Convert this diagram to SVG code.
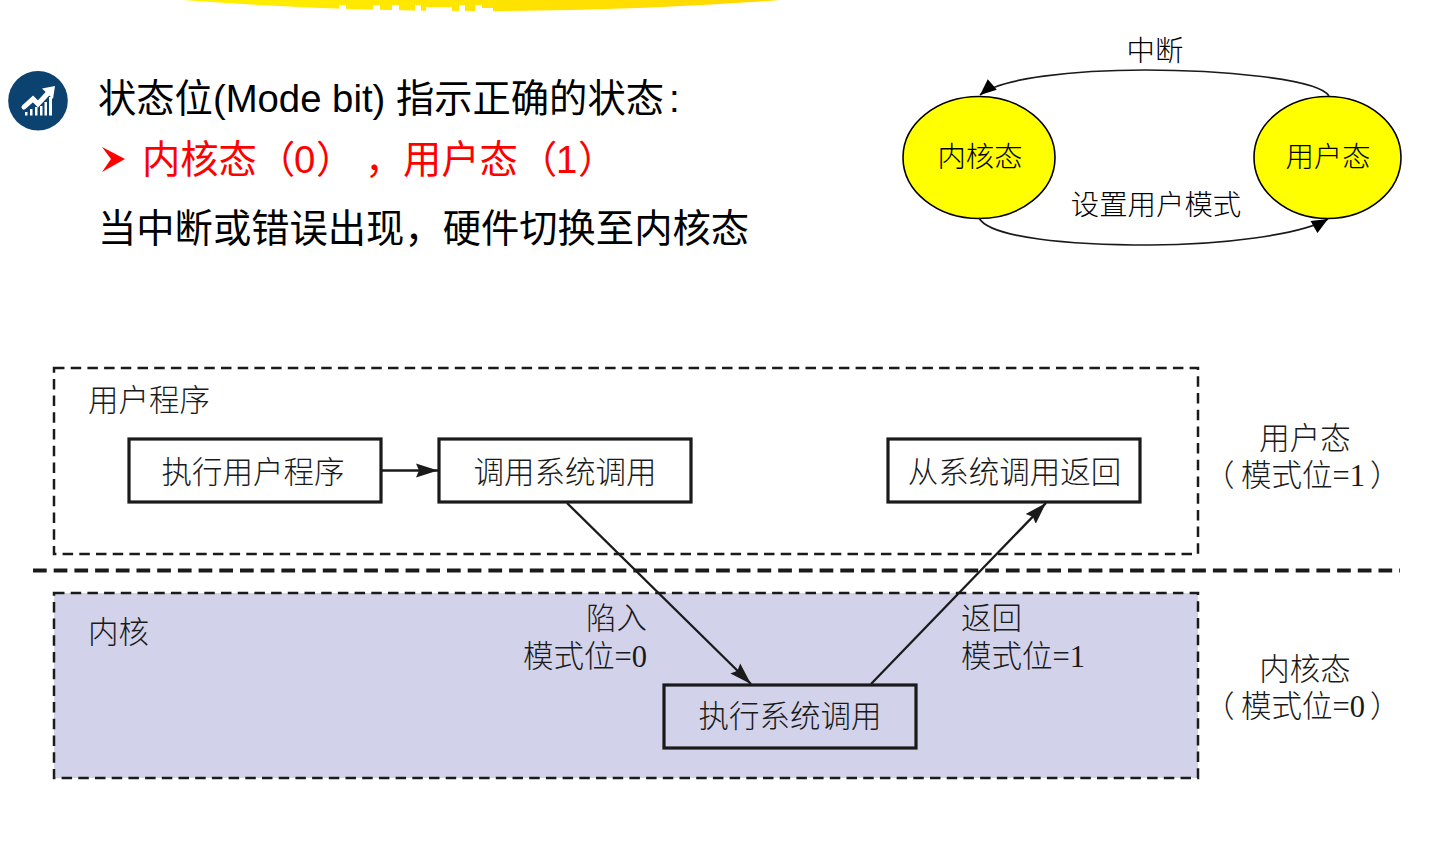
<svg xmlns="http://www.w3.org/2000/svg" width="1437" height="853" viewBox="0 0 1437 853">
<style>
text{font-family:"Noto Sans CJK SC","Liberation Sans",sans-serif;fill:#000}
.h{font-size:38.3px;font-family:"Liberation Sans","Noto Sans CJK SC",sans-serif}
.r{fill:#f00}
.s{font-size:30.5px;font-weight:300;fill:#1a1a1a;font-family:"Liberation Serif","Noto Sans CJK SC",serif}
.e{font-size:28.4px;text-anchor:middle;font-weight:300;font-family:"Liberation Serif","Noto Sans CJK SC",serif}
.m{text-anchor:middle}
.box{fill:#fff;stroke:#1a1a1a;stroke-width:3.2}
.dash{fill:none;stroke:#1a1a1a;stroke-width:2.5;stroke-dasharray:10.5 6.2}
.c{fill:none;stroke:#1a1a1a;stroke-width:2.3}
.t{fill:none;stroke:#1a1a1a;stroke-width:1.7}
.st{fill:#ff0;stroke:#000;stroke-width:1.6}
</style>
<defs>
<linearGradient id="g" x1="0" x2="1" y1="0" y2="0"><stop offset="0" stop-color="#fff000"/><stop offset="1" stop-color="#ffd800"/></linearGradient>
<marker id="a" markerUnits="userSpaceOnUse" markerWidth="24" markerHeight="16" refX="22" refY="7" orient="auto" viewBox="0 0 24 14"><path d="M0 0L22 7L0 14L3 7Z" fill="#1a1a1a"/></marker>
<marker id="b" markerUnits="userSpaceOnUse" markerWidth="18" markerHeight="14" refX="15" refY="6.500" orient="auto" viewBox="0 0 16 13"><path d="M0 0L15 6.500L0 13Z" fill="#000"/></marker>
</defs>
<path d="M183 0Q480 22 780 0Z" fill="url(#g)"/>
<path d="M339 5h7v7h-7zM373 5h7v7h-7zM392 5h7v7h-7zM415 5h6v8h-6zM426 7h26v6h-26zM459 5h6v8h-6zM475 5h7v8h-7zM482 8h11v5h-11z" fill="#fff"/>
<g id="icon"><circle cx="38" cy="100.700" r="29.800" fill="#0c426f"/>
<path d="M24 107L33 99L38 104L50 91" fill="none" stroke="#fff" stroke-width="5" stroke-linecap="round"/>
<path d="M55 86L42 88.500L53 99Z" fill="#fff"/>
<path d="M25 115.500V112H27.500V115.500ZM30 115.500V109H32.500V115.500ZM35 115.500V107H37.500V115.500ZM40 115.500V106H42.500V115.500ZM44.500 115.500V102H47V115.500ZM49 115.500V97H52V115.500Z" fill="#fff"/></g>
<g id="text-block">
<text class="h" x="98" y="112">状态位(Mode bit) 指示正确的状态</text>
<text class="h" x="669" y="112">:</text>
<path d="M102 147L125 159L102 172L111 159Z" fill="#f00"/>
<text class="h r" x="142" y="173">内核态</text>
<text class="h r" x="257" y="173">（</text>
<text class="h r" x="294" y="173">0</text>
<text class="h r" x="316" y="173">）</text>
<text class="h r" x="365" y="173">，</text>
<text class="h r" x="403" y="173">用户态</text>
<text class="h r" x="519" y="173">（</text>
<text class="h r" x="556" y="173">1</text>
<text class="h r" x="578" y="173">）</text>
<text class="h" x="98" y="242">当中断或错误出现，硬件切换至内核态</text>
</g>
<g id="kernel-state"><ellipse class="st" cx="979" cy="157.500" rx="76" ry="61"/><text class="e" x="980" y="167">内核态</text></g>
<g id="user-state"><ellipse class="st" cx="1327.500" cy="157.500" rx="73.500" ry="61"/><text class="e" x="1328" y="167">用户态</text></g>
<text class="e" x="1155" y="61">中断</text>
<text class="e" x="1156" y="215">设置用户模式</text>
<g id="connectors-top">
<path class="t" d="M1329 96C1318 78 1215 70 1145 70C1075 70 1000 78 980 95" marker-end="url(#b)"/>
<path class="t" d="M979 218C990 238 1070 245 1150 245C1220 245 1300 235 1328 219" marker-end="url(#b)"/>
</g>
<g id="user-region"><rect class="dash" x="54" y="368" width="1144" height="186"/><text class="s" x="88" y="411">用户程序</text></g>
<g id="kernel-region"><rect x="54" y="593" width="1144" height="185" fill="#d2d3eb"/><rect class="dash" x="54" y="593" width="1144" height="185"/><text class="s" x="88" y="643">内核</text></g>
<path id="divider" d="M33 570.500H1400" fill="none" stroke="#1a1a1a" stroke-width="4" stroke-dasharray="13.700 7"/>
<g id="n1"><rect class="box" x="129" y="439" width="252" height="63"/><text class="m s" x="253" y="483">执行用户程序</text></g>
<g id="n2"><rect class="box" x="439" y="439" width="252" height="63"/><text class="m s" x="565" y="483">调用系统调用</text></g>
<g id="n3"><rect class="box" x="888" y="439" width="252" height="63"/><text class="m s" x="1014.500" y="483">从系统调用返回</text></g>
<g id="n4"><rect class="box" x="664" y="685" width="252" height="63" style="fill:none"/><text class="m s" x="790" y="727">执行系统调用</text></g>
<g id="connectors">
<path class="c" d="M381 470.500H438" marker-end="url(#a)"/>
<path class="c" d="M567 503L751 684" marker-end="url(#a)"/>
<path class="c" d="M871 684L1046 503" marker-end="url(#a)"/>
</g>
<g id="labels">
<text class="s" x="647" y="629" text-anchor="end">陷入</text>
<text class="s" x="647" y="667" text-anchor="end">模式位=0</text>
<text class="s" x="961" y="629">返回</text>
<text class="s" x="961" y="667">模式位=1</text>
<text class="s" x="1305" y="449" text-anchor="middle">用户态</text>
<text class="s" x="1204" y="486">（</text>
<text class="s" x="1241" y="486">模式位=1</text>
<text class="s" x="1370" y="486">）</text>
<text class="s" x="1305" y="680" text-anchor="middle">内核态</text>
<text class="s" x="1204" y="717">（</text>
<text class="s" x="1241" y="717">模式位=0</text>
<text class="s" x="1370" y="717">）</text>
</g>
</svg>
